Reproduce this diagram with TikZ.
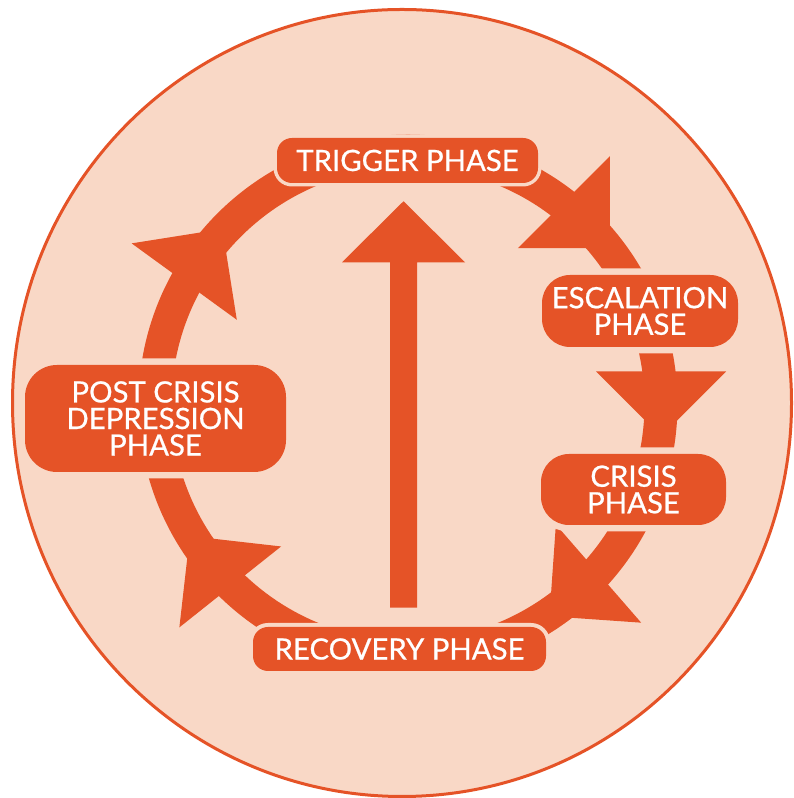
\documentclass[tikz,border=0pt]{standalone}
\usepackage{fontspec}
\setmainfont{Lato}
\newfontfamily\labelfont{Lato}[FakeBold=0.7]
\usetikzlibrary{calc}
\definecolor{flame}{RGB}{229,83,39}
\definecolor{peach}{RGB}{249,216,198}

\begin{document}
\begin{tikzpicture}[x=0.75pt,y=0.75pt,
  phase/.style={fill=flame, text=white, align=center, inner sep=0pt,
    font=\labelfont\fontsize{22pt}{19.9pt}\selectfont},
  halo/.style={preaction={draw=peach, line width=#1}},
  band/.style={draw=flame, line width=24.75pt},
  ringhead/.style={fill=flame},
]
\clip (0,0) rectangle (793,798);

% backdrop disc
\fill[peach] (402,395) ellipse [x radius=389.5, y radius=393.5];

% the cycle band
\coordinate (ring) at (408,394);
\draw[band] (ring) circle [radius=253];

% clockwise arrowheads sitting on the band
\foreach \a in {144,45,0,-49,218.5}{
  \fill[ringhead, shift={(ring)}, rotate=\a]
    (188,32.5) -- (253,-32.5) -- (318,32.5) -- cycle;
}

% phase labels
\node[phase, halo=5.25pt, minimum width=261*0.75pt, minimum height=45*0.75pt,
      rounded corners=11.25pt] (trigger) at (407.5,637.5) {TRIGGER PHASE};
\node[phase, halo=9.75pt, minimum width=196*0.75pt, minimum height=72*0.75pt,
      rounded corners=21pt] (escalation) at (640,487) {ESCALATION\\PHASE};
\node[phase, halo=9.75pt, minimum width=185*0.75pt, minimum height=71*0.75pt,
      rounded corners=21pt] (crisis) at (633.5,308.5) {CRISIS\\PHASE};
\node[phase, halo=6pt, minimum width=293*0.75pt, minimum height=44*0.75pt,
      rounded corners=11.25pt] (recovery) at (399.5,149) {RECOVERY PHASE};
\node[phase, halo=9.75pt, minimum width=261*0.75pt, minimum height=107*0.75pt,
      rounded corners=24pt] (postcrisis) at (155.5,379.5) {POST CRISIS\\DEPRESSION\\PHASE};

% central upward arrow from recovery towards trigger
\coordinate (upfoot) at ($(recovery.north)+(4,19)$);
\coordinate (uptip) at ($(trigger.south)+(-4,-18)$);
\fill[flame] ($(upfoot)+(-13.5,0)$) -- ($(uptip)+(-13.5,-61)$)
  -- ($(uptip)+(-61.5,-61)$) -- (uptip) -- ($(uptip)+(61.5,-61)$)
  -- ($(uptip)+(13.5,-61)$) -- ($(upfoot)+(13.5,0)$) -- cycle;

% outer rim
\draw[flame, line width=2.25pt] (402,395) ellipse [x radius=389.5, y radius=393.5];
\end{tikzpicture}
\end{document}
